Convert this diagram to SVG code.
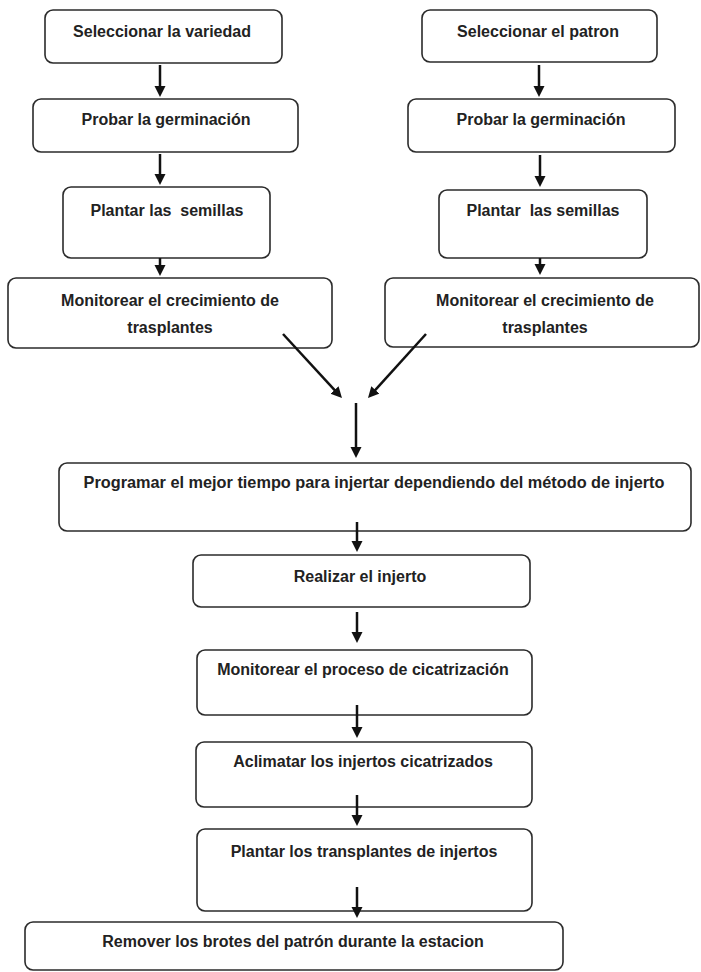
<svg xmlns="http://www.w3.org/2000/svg" width="701" height="972" viewBox="0 0 701 972">
<style>
.box{fill:#fff;stroke:#2b2b2b;stroke-width:1.6}
.t{font-family:"Liberation Sans",Arial,sans-serif;font-weight:bold;font-size:16px;fill:#222;text-anchor:middle}
.c{stroke:#111;stroke-width:2.5;fill:none;marker-end:url(#ah)}
</style>
<defs>
<marker id="ah" markerUnits="userSpaceOnUse" markerWidth="12" markerHeight="12" refX="5" refY="5.5" orient="auto">
<path d="M0,0 L11,5.5 L0,11 Z" fill="#111"/>
</marker>
</defs>
<rect width="701" height="972" fill="#fff"/>
<g id="n1"><rect class="box" x="45" y="10" width="237" height="53" rx="8"/><text class="t" x="162" y="37">Seleccionar la variedad</text></g>
<g id="n2"><rect class="box" x="33" y="99" width="265" height="53" rx="8"/><text class="t" x="166" y="125">Probar la germinación</text></g>
<g id="n3"><rect class="box" x="63" y="187" width="207" height="71" rx="8"/><text class="t" x="167" y="216" xml:space="preserve">Plantar las  semillas</text></g>
<g id="n4"><rect class="box" x="8" y="278" width="324" height="70" rx="8"/><text class="t" x="170" y="306">Monitorear el crecimiento de</text><text class="t" x="170" y="333">trasplantes</text></g>
<g id="n5"><rect class="box" x="422" y="10" width="235" height="52" rx="8"/><text class="t" x="538" y="37">Seleccionar el patron</text></g>
<g id="n6"><rect class="box" x="408" y="99" width="267" height="53" rx="8"/><text class="t" x="541" y="125">Probar la germinación</text></g>
<g id="n7"><rect class="box" x="439" y="190" width="208" height="68" rx="8"/><text class="t" x="543" y="216" xml:space="preserve">Plantar  las semillas</text></g>
<g id="n8"><rect class="box" x="385" y="278" width="314" height="69" rx="8"/><text class="t" x="545" y="306">Monitorear el crecimiento de</text><text class="t" x="545" y="333">trasplantes</text></g>
<g id="n9"><rect class="box" x="59" y="463" width="632" height="68" rx="8"/><text class="t" x="374" y="488" style="font-size:16.3px">Programar el mejor tiempo para injertar dependiendo del método de injerto</text></g>
<g id="n10"><rect class="box" x="193" y="555" width="337" height="52" rx="8"/><text class="t" x="360" y="582">Realizar el injerto</text></g>
<g id="n11"><rect class="box" x="197" y="650" width="335" height="65" rx="8"/><text class="t" x="363" y="675">Monitorear el proceso de cicatrización</text></g>
<g id="n12"><rect class="box" x="196" y="742" width="336" height="65" rx="8"/><text class="t" x="363" y="767">Aclimatar los injertos cicatrizados</text></g>
<g id="n13"><rect class="box" x="197" y="829" width="335" height="82" rx="8"/><text class="t" x="364" y="857">Plantar los transplantes de injertos</text></g>
<g id="n14"><rect class="box" x="25" y="922" width="538" height="48" rx="8"/><text class="t" x="293" y="947">Remover los brotes del patrón durante la estacion</text></g>
<g id="connectors">
<line class="c" x1="160" y1="65" x2="160" y2="91"/>
<line class="c" x1="160" y1="154" x2="160" y2="179"/>
<line class="c" x1="160" y1="258" x2="160" y2="270"/>
<line class="c" x1="539" y1="65" x2="539" y2="91"/>
<line class="c" x1="540" y1="155" x2="540" y2="181"/>
<line class="c" x1="540" y1="258" x2="540" y2="269"/>
<line class="c" x1="283" y1="334" x2="337.9" y2="393.6"/>
<line class="c" x1="426" y1="334" x2="372" y2="393.6"/>
<line class="c" x1="356" y1="403" x2="356" y2="452"/>
<line class="c" x1="357" y1="522" x2="357" y2="546"/>
<line class="c" x1="357" y1="612" x2="357" y2="637"/>
<line class="c" x1="357" y1="705" x2="357" y2="732"/>
<line class="c" x1="357" y1="795" x2="357" y2="820"/>
<line class="c" x1="357" y1="887" x2="357" y2="912"/>
</g>
</svg>
